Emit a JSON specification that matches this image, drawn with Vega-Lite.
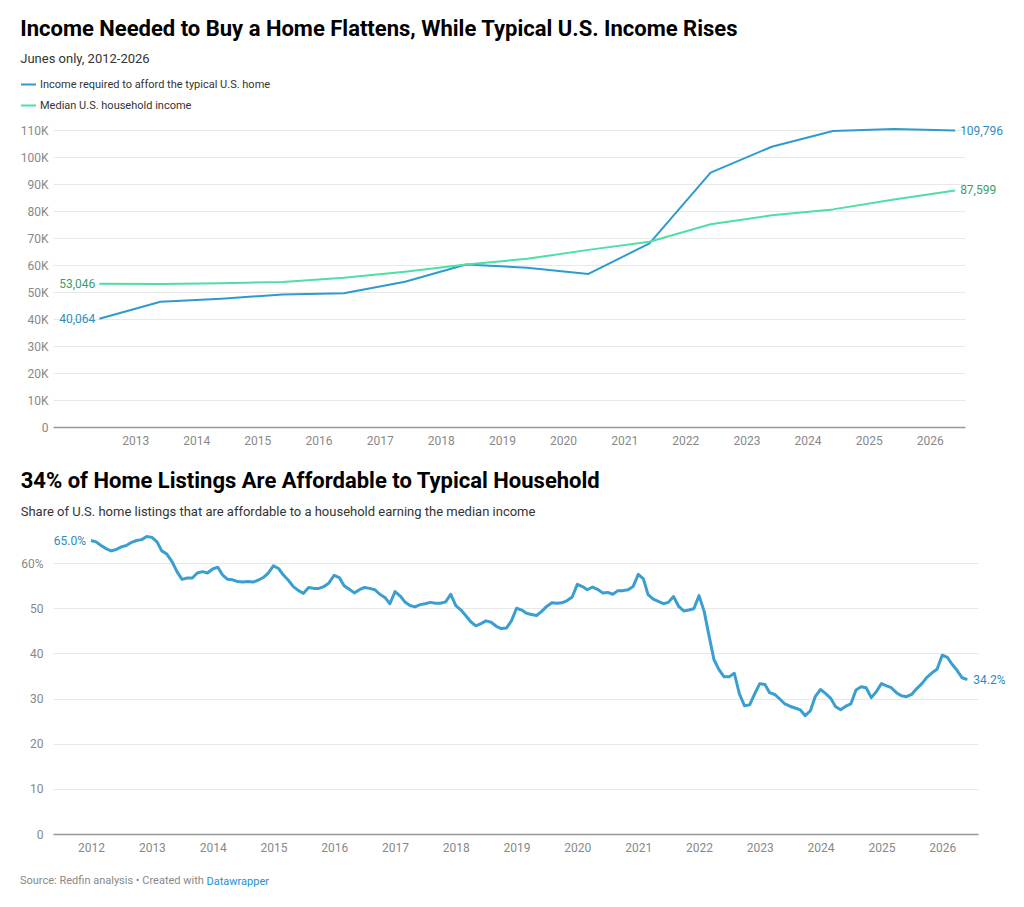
{
  "$schema": "https://vega.github.io/schema/vega-lite/v6.json",
  "background": "white",
  "padding": {"left": 20, "top": 18, "right": 5, "bottom": 5},
  "config": {
    "font": "Roboto",
    "view": {"stroke": null},
    "axis": {"labelFont": "Roboto", "labelFontSize": 12, "labelColor": "#888", "ticks": false, "domain": false, "grid": false}
  },
  "title": {"text": "Source: Redfin analysis • Created with", "orient": "bottom", "anchor": "start", "fontSize": 11, "fontWeight": "normal", "color": "#888", "offset": -11},
  "align": "none",
  "spacing": 23,
  "datasets": {
    "income": [
      {"date": "2012-06-01", "series": "Income required to afford the typical U.S. home", "value": 40064},
      {"date": "2013-06-01", "series": "Income required to afford the typical U.S. home", "value": 46400},
      {"date": "2014-06-01", "series": "Income required to afford the typical U.S. home", "value": 47500},
      {"date": "2015-06-01", "series": "Income required to afford the typical U.S. home", "value": 49100},
      {"date": "2016-06-01", "series": "Income required to afford the typical U.S. home", "value": 49500},
      {"date": "2017-06-01", "series": "Income required to afford the typical U.S. home", "value": 53800},
      {"date": "2018-06-01", "series": "Income required to afford the typical U.S. home", "value": 60200},
      {"date": "2019-06-01", "series": "Income required to afford the typical U.S. home", "value": 59000},
      {"date": "2020-06-01", "series": "Income required to afford the typical U.S. home", "value": 56700},
      {"date": "2021-06-01", "series": "Income required to afford the typical U.S. home", "value": 68000},
      {"date": "2022-06-01", "series": "Income required to afford the typical U.S. home", "value": 94200},
      {"date": "2023-06-01", "series": "Income required to afford the typical U.S. home", "value": 103800},
      {"date": "2024-06-01", "series": "Income required to afford the typical U.S. home", "value": 109600},
      {"date": "2025-06-01", "series": "Income required to afford the typical U.S. home", "value": 110400},
      {"date": "2026-06-01", "series": "Income required to afford the typical U.S. home", "value": 109796},
      {"date": "2012-06-01", "series": "Median U.S. household income", "value": 53046},
      {"date": "2013-06-01", "series": "Median U.S. household income", "value": 53000},
      {"date": "2014-06-01", "series": "Median U.S. household income", "value": 53250},
      {"date": "2015-06-01", "series": "Median U.S. household income", "value": 53700},
      {"date": "2016-06-01", "series": "Median U.S. household income", "value": 55300},
      {"date": "2017-06-01", "series": "Median U.S. household income", "value": 57500},
      {"date": "2018-06-01", "series": "Median U.S. household income", "value": 60200},
      {"date": "2019-06-01", "series": "Median U.S. household income", "value": 62300},
      {"date": "2020-06-01", "series": "Median U.S. household income", "value": 65600},
      {"date": "2021-06-01", "series": "Median U.S. household income", "value": 68600},
      {"date": "2022-06-01", "series": "Median U.S. household income", "value": 75100},
      {"date": "2023-06-01", "series": "Median U.S. household income", "value": 78400},
      {"date": "2024-06-01", "series": "Median U.S. household income", "value": 80600},
      {"date": "2025-06-01", "series": "Median U.S. household income", "value": 84300},
      {"date": "2026-06-01", "series": "Median U.S. household income", "value": 87599}
    ],
    "share": [
      {"d": "2012-01-01", "v": 65.0}, {"d": "2012-02-01", "v": 64.7}, {"d": "2012-03-01", "v": 63.9}, {"d": "2012-04-01", "v": 63.2},
      {"d": "2012-05-01", "v": 62.7}, {"d": "2012-06-01", "v": 63.0}, {"d": "2012-07-01", "v": 63.6}, {"d": "2012-08-01", "v": 63.9},
      {"d": "2012-09-01", "v": 64.6}, {"d": "2012-10-01", "v": 65.0}, {"d": "2012-11-01", "v": 65.2}, {"d": "2012-12-01", "v": 65.9},
      {"d": "2013-01-01", "v": 65.7}, {"d": "2013-02-01", "v": 64.7}, {"d": "2013-03-01", "v": 62.7}, {"d": "2013-04-01", "v": 62.0},
      {"d": "2013-05-01", "v": 60.4}, {"d": "2013-06-01", "v": 58.1}, {"d": "2013-07-01", "v": 56.4}, {"d": "2013-08-01", "v": 56.7},
      {"d": "2013-09-01", "v": 56.7}, {"d": "2013-10-01", "v": 57.8}, {"d": "2013-11-01", "v": 58.1}, {"d": "2013-12-01", "v": 57.8},
      {"d": "2014-01-01", "v": 58.7}, {"d": "2014-02-01", "v": 59.1}, {"d": "2014-03-01", "v": 57.4}, {"d": "2014-04-01", "v": 56.4},
      {"d": "2014-05-01", "v": 56.3}, {"d": "2014-06-01", "v": 55.9}, {"d": "2014-07-01", "v": 55.8}, {"d": "2014-08-01", "v": 55.9},
      {"d": "2014-09-01", "v": 55.8}, {"d": "2014-10-01", "v": 56.2}, {"d": "2014-11-01", "v": 56.8}, {"d": "2014-12-01", "v": 57.8},
      {"d": "2015-01-01", "v": 59.4}, {"d": "2015-02-01", "v": 58.8}, {"d": "2015-03-01", "v": 57.4}, {"d": "2015-04-01", "v": 56.2},
      {"d": "2015-05-01", "v": 54.8}, {"d": "2015-06-01", "v": 53.9}, {"d": "2015-07-01", "v": 53.3}, {"d": "2015-08-01", "v": 54.6},
      {"d": "2015-09-01", "v": 54.4}, {"d": "2015-10-01", "v": 54.4}, {"d": "2015-11-01", "v": 54.8}, {"d": "2015-12-01", "v": 55.6},
      {"d": "2016-01-01", "v": 57.3}, {"d": "2016-02-01", "v": 56.8}, {"d": "2016-03-01", "v": 55.0}, {"d": "2016-04-01", "v": 54.2},
      {"d": "2016-05-01", "v": 53.4}, {"d": "2016-06-01", "v": 54.1}, {"d": "2016-07-01", "v": 54.6}, {"d": "2016-08-01", "v": 54.4},
      {"d": "2016-09-01", "v": 54.1}, {"d": "2016-10-01", "v": 53.1}, {"d": "2016-11-01", "v": 52.4}, {"d": "2016-12-01", "v": 51.0},
      {"d": "2017-01-01", "v": 53.7}, {"d": "2017-02-01", "v": 52.7}, {"d": "2017-03-01", "v": 51.4}, {"d": "2017-04-01", "v": 50.6},
      {"d": "2017-05-01", "v": 50.3}, {"d": "2017-06-01", "v": 50.8}, {"d": "2017-07-01", "v": 51.0}, {"d": "2017-08-01", "v": 51.3},
      {"d": "2017-09-01", "v": 51.1}, {"d": "2017-10-01", "v": 51.1}, {"d": "2017-11-01", "v": 51.4}, {"d": "2017-12-01", "v": 53.1},
      {"d": "2018-01-01", "v": 50.6}, {"d": "2018-02-01", "v": 49.6}, {"d": "2018-03-01", "v": 48.4}, {"d": "2018-04-01", "v": 47.0},
      {"d": "2018-05-01", "v": 46.1}, {"d": "2018-06-01", "v": 46.6}, {"d": "2018-07-01", "v": 47.2}, {"d": "2018-08-01", "v": 46.9},
      {"d": "2018-09-01", "v": 46.0}, {"d": "2018-10-01", "v": 45.5}, {"d": "2018-11-01", "v": 45.6}, {"d": "2018-12-01", "v": 47.2},
      {"d": "2019-01-01", "v": 50.0}, {"d": "2019-02-01", "v": 49.6}, {"d": "2019-03-01", "v": 48.9}, {"d": "2019-04-01", "v": 48.6},
      {"d": "2019-05-01", "v": 48.4}, {"d": "2019-06-01", "v": 49.3}, {"d": "2019-07-01", "v": 50.4}, {"d": "2019-08-01", "v": 51.2},
      {"d": "2019-09-01", "v": 51.1}, {"d": "2019-10-01", "v": 51.2}, {"d": "2019-11-01", "v": 51.7}, {"d": "2019-12-01", "v": 52.5},
      {"d": "2020-01-01", "v": 55.3}, {"d": "2020-02-01", "v": 54.8}, {"d": "2020-03-01", "v": 54.1}, {"d": "2020-04-01", "v": 54.7},
      {"d": "2020-05-01", "v": 54.2}, {"d": "2020-06-01", "v": 53.4}, {"d": "2020-07-01", "v": 53.5}, {"d": "2020-08-01", "v": 53.1},
      {"d": "2020-09-01", "v": 53.9}, {"d": "2020-10-01", "v": 53.9}, {"d": "2020-11-01", "v": 54.1}, {"d": "2020-12-01", "v": 54.8},
      {"d": "2021-01-01", "v": 57.5}, {"d": "2021-02-01", "v": 56.5}, {"d": "2021-03-01", "v": 53.0}, {"d": "2021-04-01", "v": 52.0},
      {"d": "2021-05-01", "v": 51.5}, {"d": "2021-06-01", "v": 51.0}, {"d": "2021-07-01", "v": 51.3}, {"d": "2021-08-01", "v": 52.6},
      {"d": "2021-09-01", "v": 50.4}, {"d": "2021-10-01", "v": 49.4}, {"d": "2021-11-01", "v": 49.6}, {"d": "2021-12-01", "v": 49.9},
      {"d": "2022-01-01", "v": 52.8}, {"d": "2022-02-01", "v": 49.3}, {"d": "2022-03-01", "v": 44.1}, {"d": "2022-04-01", "v": 38.6},
      {"d": "2022-05-01", "v": 36.4}, {"d": "2022-06-01", "v": 34.8}, {"d": "2022-07-01", "v": 34.8}, {"d": "2022-08-01", "v": 35.6},
      {"d": "2022-09-01", "v": 31.0}, {"d": "2022-10-01", "v": 28.4}, {"d": "2022-11-01", "v": 28.6}, {"d": "2022-12-01", "v": 31.0},
      {"d": "2023-01-01", "v": 33.3}, {"d": "2023-02-01", "v": 33.1}, {"d": "2023-03-01", "v": 31.3}, {"d": "2023-04-01", "v": 30.9},
      {"d": "2023-05-01", "v": 29.9}, {"d": "2023-06-01", "v": 28.8}, {"d": "2023-07-01", "v": 28.3}, {"d": "2023-08-01", "v": 27.9},
      {"d": "2023-09-01", "v": 27.5}, {"d": "2023-10-01", "v": 26.2}, {"d": "2023-11-01", "v": 27.3}, {"d": "2023-12-01", "v": 30.5},
      {"d": "2024-01-01", "v": 32.0}, {"d": "2024-02-01", "v": 31.1}, {"d": "2024-03-01", "v": 30.1}, {"d": "2024-04-01", "v": 28.2},
      {"d": "2024-05-01", "v": 27.5}, {"d": "2024-06-01", "v": 28.3}, {"d": "2024-07-01", "v": 28.8}, {"d": "2024-08-01", "v": 31.9},
      {"d": "2024-09-01", "v": 32.6}, {"d": "2024-10-01", "v": 32.4}, {"d": "2024-11-01", "v": 30.2}, {"d": "2024-12-01", "v": 31.5},
      {"d": "2025-01-01", "v": 33.3}, {"d": "2025-02-01", "v": 32.8}, {"d": "2025-03-01", "v": 32.4}, {"d": "2025-04-01", "v": 31.3},
      {"d": "2025-05-01", "v": 30.6}, {"d": "2025-06-01", "v": 30.4}, {"d": "2025-07-01", "v": 30.9}, {"d": "2025-08-01", "v": 32.2},
      {"d": "2025-09-01", "v": 33.3}, {"d": "2025-10-01", "v": 34.7}, {"d": "2025-11-01", "v": 35.7}, {"d": "2025-12-01", "v": 36.5},
      {"d": "2026-01-01", "v": 39.6}, {"d": "2026-02-01", "v": 39.1}, {"d": "2026-03-01", "v": 37.6}, {"d": "2026-04-01", "v": 36.2},
      {"d": "2026-05-01", "v": 34.6}, {"d": "2026-06-01", "v": 34.2}
    ]
  },
  "vconcat": [
    {
      "width": 912,
      "height": 297,
      "title": {
        "text": "Income Needed to Buy a Home Flattens, While Typical U.S. Income Rises",
        "subtitle": "Junes only, 2012-2026",
        "anchor": "start",
        "fontSize": 22,
        "fontWeight": "bold",
        "color": "#000",
        "subtitleFontSize": 13,
        "subtitleColor": "#333",
        "subtitlePadding": 12,
        "offset": 57
      },
      "data": {"name": "income"},
      "encoding": {
        "x": {
          "field": "date", "type": "temporal",
          "scale": {"domain": [{"year": 2011, "month": 8, "date": 29}, {"year": 2026, "month": 7, "date": 30}]},
          "axis": {
            "title": null, "format": "%Y", "labelPadding": 8, "domain": true, "domainColor": "#999", "domainWidth": 1.5,
            "values": [
              {"year": 2013, "month": 1, "date": 1}, {"year": 2014, "month": 1, "date": 1}, {"year": 2015, "month": 1, "date": 1},
              {"year": 2016, "month": 1, "date": 1}, {"year": 2017, "month": 1, "date": 1}, {"year": 2018, "month": 1, "date": 1},
              {"year": 2019, "month": 1, "date": 1}, {"year": 2020, "month": 1, "date": 1}, {"year": 2021, "month": 1, "date": 1},
              {"year": 2022, "month": 1, "date": 1}, {"year": 2023, "month": 1, "date": 1}, {"year": 2024, "month": 1, "date": 1},
              {"year": 2025, "month": 1, "date": 1}, {"year": 2026, "month": 1, "date": 1}
            ]
          }
        },
        "y": {
          "field": "value", "type": "quantitative",
          "scale": {"domain": [0, 110000], "nice": false},
          "axis": {
            "title": null, "grid": true, "gridColor": "#e8e8e8", "labelPadding": 5,
            "values": [0, 10000, 20000, 30000, 40000, 50000, 60000, 70000, 80000, 90000, 100000, 110000],
            "labelExpr": "datum.value == 0 ? '0' : (datum.value / 1000) + 'K'"
          }
        }
      },
      "layer": [
        {
          "mark": {"type": "line", "strokeWidth": 2, "strokeJoin": "round"},
          "encoding": {
            "color": {
              "field": "series", "type": "nominal",
              "scale": {
                "domain": ["Income required to afford the typical U.S. home", "Median U.S. household income"],
                "range": ["#2d9bcf", "#4ddfa3"]
              },
              "legend": {
                "orient": "none", "legendX": -33, "legendY": -54, "title": null, "direction": "vertical",
                "symbolType": "stroke", "symbolStrokeWidth": 2, "symbolSize": 225, "labelLimit": 0,
                "labelFontSize": 11, "labelColor": "#333", "labelFont": "Roboto", "rowPadding": 7, "labelOffset": 3
              }
            }
          }
        },
        {
          "transform": [{"filter": {"field": "date", "timeUnit": "year", "equal": 2012}}],
          "mark": {"type": "text", "align": "right", "dx": -4, "fontSize": 12},
          "encoding": {
            "text": {"field": "value", "format": ",d"},
            "color": {"condition": {"test": "datum.series == 'Median U.S. household income'", "value": "#3a9e6c"}, "value": "#2b8cbe"}
          }
        },
        {
          "transform": [{"filter": {"field": "date", "timeUnit": "year", "equal": 2026}}],
          "mark": {"type": "text", "align": "left", "dx": 5, "fontSize": 12},
          "encoding": {
            "text": {"field": "value", "format": ",d"},
            "color": {"condition": {"test": "datum.series == 'Median U.S. household income'", "value": "#3a9e6c"}, "value": "#2b8cbe"}
          }
        }
      ]
    },
    {
      "width": 925,
      "height": 298,
      "title": {
        "text": "34% of Home Listings Are Affordable to Typical Household",
        "subtitle": "Share of U.S. home listings that are affordable to a household earning the median income",
        "anchor": "start",
        "fontSize": 22,
        "fontWeight": "bold",
        "color": "#000",
        "subtitleFontSize": 13,
        "subtitleColor": "#333",
        "subtitlePadding": 13,
        "offset": 15
      },
      "data": {"name": "share"},
      "transform": [{"calculate": "format(datum.v, '.1f') + '%'", "as": "lab"}],
      "encoding": {
        "x": {
          "field": "d", "type": "temporal",
          "scale": {"domain": [{"year": 2011, "month": 5, "date": 18}, {"year": 2026, "month": 8, "date": 4}]},
          "axis": {
            "format": "%Y", "labelPadding": 8, "domain": true, "domainColor": "#999", "domainWidth": 1.5,
            "title": "Datawrapper", "titleColor": "#1f8dd6", "titleFontSize": 11, "titleFontWeight": "normal", "titleFont": "Roboto",
            "titleX": 153, "titleY": 47, "titleAlign": "left", "titleBaseline": "middle",
            "values": [
              {"year": 2012, "month": 1, "date": 1}, {"year": 2013, "month": 1, "date": 1}, {"year": 2014, "month": 1, "date": 1},
              {"year": 2015, "month": 1, "date": 1}, {"year": 2016, "month": 1, "date": 1}, {"year": 2017, "month": 1, "date": 1},
              {"year": 2018, "month": 1, "date": 1}, {"year": 2019, "month": 1, "date": 1}, {"year": 2020, "month": 1, "date": 1},
              {"year": 2021, "month": 1, "date": 1}, {"year": 2022, "month": 1, "date": 1}, {"year": 2023, "month": 1, "date": 1},
              {"year": 2024, "month": 1, "date": 1}, {"year": 2025, "month": 1, "date": 1}, {"year": 2026, "month": 1, "date": 1}
            ]
          }
        },
        "y": {
          "field": "v", "type": "quantitative",
          "scale": {"domain": [0, 66], "nice": false},
          "axis": {
            "title": null, "grid": true, "gridColor": "#e8e8e8", "labelPadding": 10,
            "values": [0, 10, 20, 30, 40, 50, 60],
            "labelExpr": "datum.value == 60 ? '60%' : datum.value"
          }
        }
      },
      "layer": [
        {
          "mark": {"type": "line", "strokeWidth": 3, "color": "#3a9fd0", "strokeJoin": "round"}
        },
        {
          "transform": [{"filter": {"field": "d", "timeUnit": "yearmonth", "equal": {"year": 2012, "month": 1}}}],
          "mark": {"type": "text", "align": "right", "dx": -5, "fontSize": 12, "color": "#2b8cbe"},
          "encoding": {"text": {"field": "lab"}}
        },
        {
          "transform": [{"filter": {"field": "d", "timeUnit": "yearmonth", "equal": {"year": 2026, "month": 6}}}],
          "mark": {"type": "text", "align": "left", "dx": 6, "fontSize": 12, "color": "#2b8cbe"},
          "encoding": {"text": {"field": "lab"}}
        }
      ]
    }
  ]
}
